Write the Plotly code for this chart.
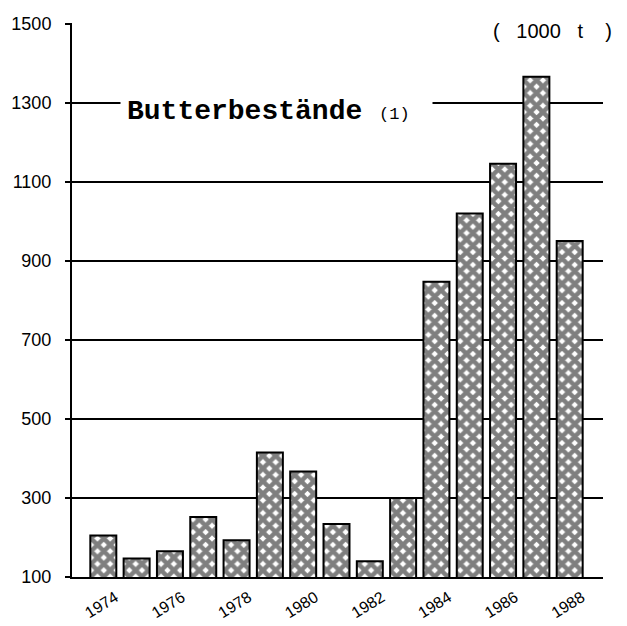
import plotly.graph_objects as go

years = list(range(1974, 1989))
stocks = [205, 147, 165, 252, 193, 415, 367, 234, 140, 300, 847, 1020, 1146, 1366, 950]
year_ticks = [1974, 1976, 1978, 1980, 1982, 1984, 1986, 1988]
y_ticks = [100, 300, 500, 700, 900, 1100, 1300, 1500]

title_text = "Butterbestände"
note_text = "(1)"
unit_text = "(\u00a0\u00a0\u00a01000\u00a0\u00a0\u00a0t\u00a0\u00a0\u00a0\u00a0)"

fig = go.Figure()
fig.add_trace(go.Bar(
    x=years, y=stocks, base=0, width=0.78,
    marker=dict(
        color="white",
        line=dict(color="black", width=2),
        pattern=dict(shape="x", fgcolor="black", bgcolor="white", size=9, solidity=0.75),
    ),
    showlegend=False,
))

# page body has an 8px default margin; figure sized to fit inside the window
fig.update_layout(
    width=619, height=618,
    margin=dict(l=64, r=24, t=15, b=49),
    paper_bgcolor="white", plot_bgcolor="white",
    font=dict(family="Liberation Sans, Arial, sans-serif", color="black"),
)
fig.update_xaxes(
    range=[1973.06, 1989.0], automargin=False,
    tickvals=year_ticks, ticktext=[str(v) for v in year_ticks],
    tickangle=-32, tickfont=dict(size=16),
    showgrid=False, zeroline=False,
    showline=True, linecolor="black", linewidth=2,
    ticks="", ticklabelstandoff=3, ticklabelshift=12,
)
fig.update_yaxes(
    range=[100, 1502], automargin=False,
    tickvals=y_ticks, ticktext=[str(v) for v in y_ticks],
    tickfont=dict(size=18),
    showgrid=True, gridcolor="black", gridwidth=1.5,
    zeroline=False,
    showline=True, linecolor="black", linewidth=2,
    ticks="outside", ticklen=5, tickcolor="black", tickwidth=1.5,
    ticklabelstandoff=10,
)

fig.add_annotation(
    xref="x", yref="y", x=1974.5, y=1277, xanchor="left", yanchor="middle",
    text=(f"<b>{title_text}</b>\u00a0<span style='font-size:17px'>{note_text}</span>\u00a0"),
    font=dict(family="Liberation Mono, Courier New, monospace", size=28, color="black"),
    bgcolor="white", borderpad=6, showarrow=False,
)
fig.add_annotation(
    xref="paper", yref="y", x=0.787, y=1482, xanchor="left", yanchor="middle",
    text=unit_text,
    font=dict(family="Liberation Sans, Arial, sans-serif", size=20, color="black"),
    bgcolor="white", borderpad=2, showarrow=False,
)

fig.write_html("out.html")
